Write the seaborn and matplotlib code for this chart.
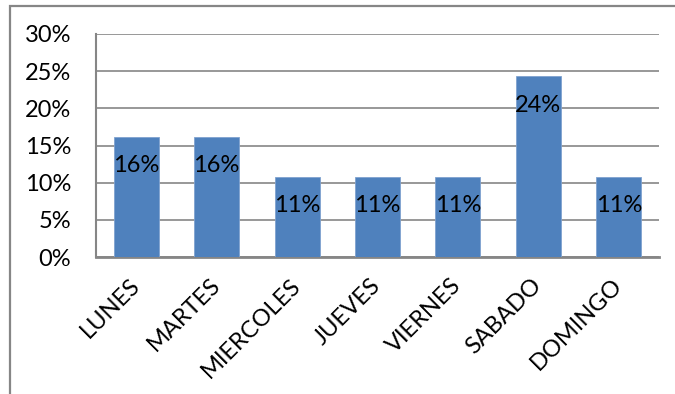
import matplotlib
matplotlib.use("Agg")
import matplotlib.pyplot as plt
import seaborn as sns
import pandas as pd
from matplotlib.patches import Rectangle

dias = ["LUNES", "MARTES", "MIERCOLES", "JUEVES", "VIERNES", "SABADO", "DOMINGO"]
porcentajes = [16.2, 16.2, 10.8, 10.8, 10.8, 24.3, 10.8]
ticks_y = [0, 5, 10, 15, 20, 25, 30]

df = pd.DataFrame({"dia": dias, "pct": porcentajes})

sns.set_theme(style="white")
plt.rcParams["font.family"] = ["Lato", "DejaVu Sans"]

W, H = 675, 394
FS = 17
fig = plt.figure(figsize=(W / 100, H / 100), dpi=100)
ax = fig.add_axes([96 / W, 1 - 257 / H, (659 - 96) / W, (257 - 34) / H])

azul = "#4F81BD"
gris = "#868686"

sns.barplot(data=df, x="dia", y="pct", color=azul, saturation=1, width=0.56,
            edgecolor="#7FA2CF", linewidth=0.6, ax=ax, zorder=3)

ax.set_ylim(0, 30)
ax.set_xlim(-0.5, len(dias) - 0.5)
ax.set_yticks(ticks_y)
ax.set_yticklabels([f"{t}%" for t in ticks_y], fontsize=FS, color="black")
ax.yaxis.grid(True, color=gris, linewidth=1.2, zorder=0)
ax.set_axisbelow(True)
ax.set_xlabel("")
ax.set_ylabel("")

for s in ["top", "right"]:
    ax.spines[s].set_visible(False)
ax.spines["left"].set_color(gris)
ax.spines["left"].set_linewidth(1.5)
ax.spines["bottom"].set_color(gris)
ax.spines["bottom"].set_linewidth(2)
ax.tick_params(axis="y", length=0, pad=18)
ax.tick_params(axis="x", length=0, pad=18)

ax.set_xticks(range(len(dias)))
ax.set_xticklabels(dias, rotation=45, ha="right", rotation_mode="anchor",
                   fontsize=FS, color="black")
for lbl in ax.get_xticklabels():
    lbl.set_va("center")

for i, v in enumerate(porcentajes):
    ax.annotate(f"{v:.0f}%", xy=(i, v), xytext=(0, -21), textcoords="offset points",
                ha="center", va="center", fontsize=FS, color="black", zorder=4)

# outer chart-area frame
fig.patches.append(Rectangle((10 / W, -0.1), 1.2, 1 - 6 / H + 0.1,
                             transform=fig.transFigure, fill=False,
                             edgecolor=gris, linewidth=1.6, zorder=0))

fig.savefig("out.png", dpi=100, facecolor="white")
